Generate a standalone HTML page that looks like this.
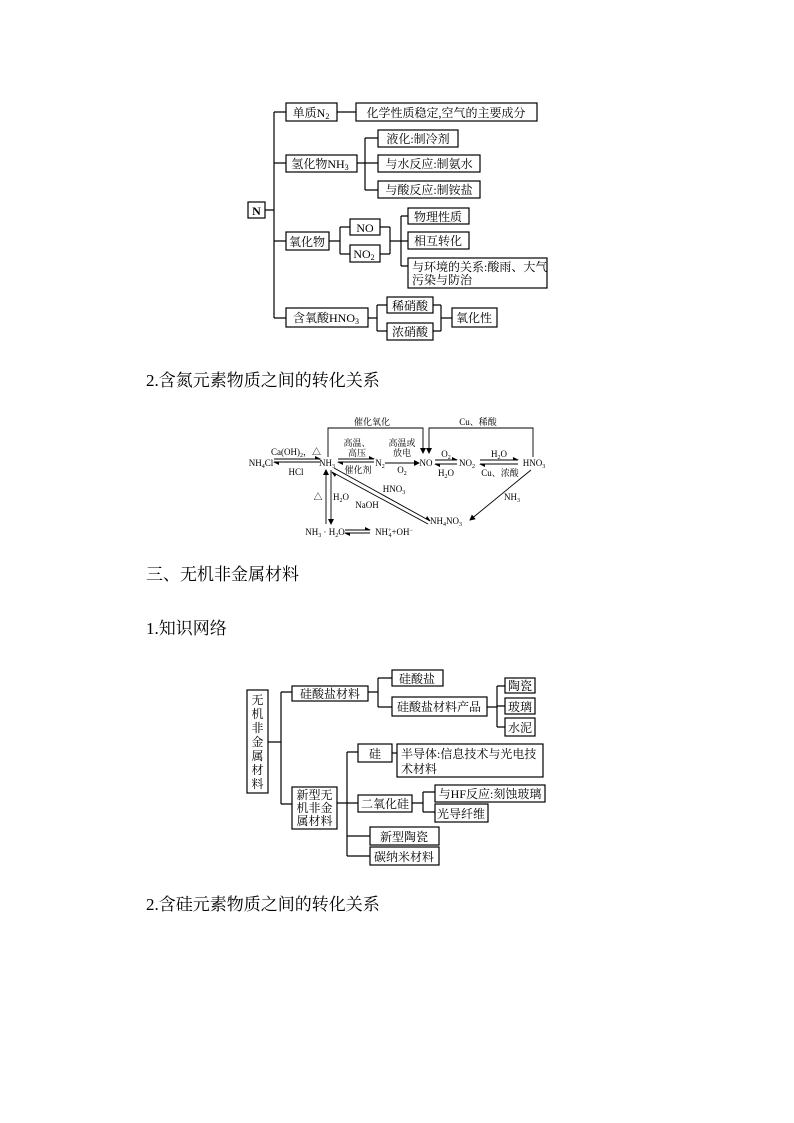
<!DOCTYPE html>
<html><head><meta charset="utf-8"><style>
html,body{margin:0;padding:0;background:#fff;}
body{width:794px;height:1123px;position:relative;overflow:hidden;font-family:"Liberation Serif","Noto Serif CJK SC","Noto Sans CJK SC",serif;}
.h{position:absolute;left:146px;font-size:17px;line-height:20px;color:#000;white-space:nowrap;font-family:"Liberation Serif","Noto Serif CJK SC",serif;}
svg{position:absolute;left:0;top:0;}
svg text{font-family:"Liberation Serif","Noto Serif CJK SC",serif;fill:#000;}
</style></head><body>
<div class="h" style="top:371px">2.含氮元素物质之间的转化关系</div>
<div class="h" style="top:565px">三、无机非金属材料</div>
<div class="h" style="top:619px">1.知识网络</div>
<div class="h" style="top:895px">2.含硅元素物质之间的转化关系</div>

<svg width="794" height="1123" viewBox="0 0 794 1123">
<defs>
<marker id="a" markerWidth="6" markerHeight="6" refX="5" refY="3" orient="auto" markerUnits="userSpaceOnUse"><path d="M0,0 L6,3 L0,6 z" fill="#000"/></marker>
<marker id="h" markerWidth="6" markerHeight="4" refX="5" refY="3" orient="auto" markerUnits="userSpaceOnUse"><path d="M0,0 L6,3 L0,3 z" fill="#000"/></marker>
</defs>
<g fill="none" stroke="#000" stroke-width="1.2">
<rect x="248" y="202" width="17" height="16"/>
<path d="M265 210H274M274 112V318M274 112H286M274 163H286M274 241H286M274 318H286"/>
<rect x="286" y="103" width="51" height="18"/>
<path d="M337 112H356"/>
<rect x="356" y="103" width="181" height="18"/>
<rect x="286" y="155" width="71" height="17"/>
<path d="M357 163H365M365 138V190M365 138H378M365 163H378M365 190H378"/>
<rect x="378" y="130" width="80" height="17"/>
<rect x="378" y="155" width="102" height="17"/>
<rect x="378" y="181" width="102" height="17"/>
<rect x="286" y="232" width="43" height="18"/>
<path d="M329 241H340M340 227V254M340 227H350M340 254H350M380 227H390M380 254H390M390 227V254M390 241H401M401 216V266M401 216H408M401 241H408M401 266H408"/>
<rect x="350" y="219" width="30" height="16"/>
<rect x="350" y="245" width="30" height="17"/>
<rect x="408" y="208" width="61" height="16"/>
<rect x="408" y="232" width="61" height="17"/>
<rect x="408" y="258" width="139" height="30"/>
<rect x="286" y="308" width="82" height="19"/>
<path d="M368 318H377M377 305V331M377 305H387M377 331H387M433 305H441M433 331H441M441 305V331M441 318H452"/>
<rect x="387" y="297" width="46" height="16"/>
<rect x="387" y="323" width="46" height="17"/>
<rect x="452" y="308" width="45" height="19"/>
<rect x="247" y="690" width="21" height="103"/>
<path d="M268 742H281M281 692V804M281 692H292M281 804H292"/>
<rect x="292" y="686" width="76" height="15"/>
<path d="M368 692H378M378 678V707M378 678H392M378 707H392"/>
<rect x="392" y="670" width="51" height="16"/>
<rect x="392" y="697" width="95" height="19"/>
<path d="M487 707H497M497 686V727M497 686H505M497 706H505M497 727H505"/>
<rect x="505" y="678" width="30" height="15"/>
<rect x="505" y="698" width="30" height="16"/>
<rect x="505" y="718" width="30" height="18"/>
<rect x="292" y="787" width="45" height="42"/>
<path d="M337 803H347M347 752V856M347 752H358M347 803H358M347 836H370M347 856H370"/>
<rect x="358" y="744" width="34" height="18"/>
<path d="M392 753H397"/>
<rect x="397" y="744" width="146" height="33"/>
<rect x="358" y="795" width="54" height="17"/>
<path d="M412 803H423M423 792V812M423 792H435M423 812H435"/>
<rect x="435" y="785" width="110" height="17"/>
<rect x="435" y="804" width="53" height="18"/>
<rect x="370" y="827" width="69" height="18"/>
<rect x="370" y="847" width="69" height="18"/>
<g stroke-width="0.9">
<path d="M328 457V428H423V453" marker-end="url(#a)"/>
<path d="M533 457V428H429V453" marker-end="url(#a)"/>
<path d="M274 459H320" marker-end="url(#h)"/>
<path d="M320 462H274" marker-end="url(#h)"/>
<path d="M338 459H374" marker-end="url(#h)"/>
<path d="M374 462H338" marker-end="url(#h)"/>
<path d="M385 463H419" marker-end="url(#a)"/>
<path d="M435 460H457" marker-end="url(#h)"/>
<path d="M457 464H435" marker-end="url(#h)"/>
<path d="M480 460H518" marker-end="url(#h)"/>
<path d="M518 464H480" marker-end="url(#h)"/>
<path d="M326 524V470" marker-end="url(#a)"/>
<path d="M331 470V524" marker-end="url(#a)"/>
<path d="M334 468L430 521" marker-end="url(#h)"/>
<path d="M428 524L332 472" marker-end="url(#h)"/>
<path d="M345 530H370" marker-end="url(#h)"/>
<path d="M370 533H345" marker-end="url(#h)"/>
<path d="M531 470L470 520" marker-end="url(#a)"/>
</g>
</g>
<g font-size="12" text-anchor="middle">
<text x="256.5" y="215" font-weight="bold">N</text>
<text x="311" y="117">单质N<tspan font-size="8" dy="2">2</tspan></text>
<text x="446" y="117">化学性质稳定,空气的主要成分</text>
<text x="320" y="168">氢化物NH<tspan font-size="8" dy="2">3</tspan></text>
<text x="418" y="143">液化:制冷剂</text>
<text x="429" y="168">与水反应:制氨水</text>
<text x="429" y="194">与酸反应:制铵盐</text>
<text x="307" y="246">氧化物</text>
<text x="365" y="232">NO</text>
<text x="364" y="258">NO<tspan font-size="8" dy="2">2</tspan></text>
<text x="438" y="221">物理性质</text>
<text x="438" y="245">相互转化</text>
<text x="412" y="271" text-anchor="start">与环境的关系:酸雨、大气</text>
<text x="412" y="284" text-anchor="start">污染与防治</text>
<text x="326" y="322">含氧酸HNO<tspan font-size="8" dy="2">3</tspan></text>
<text x="410" y="310">稀硝酸</text>
<text x="410" y="336">浓硝酸</text>
<text x="474" y="322">氧化性</text>
</g>
<g font-size="9" text-anchor="middle">
<text x="372" y="425">催化氧化</text>
<text x="478" y="425">Cu、稀酸</text>
<text x="261" y="466">NH<tspan font-size="6" dy="2">4</tspan><tspan dy="-2">Cl</tspan></text>
<text x="296" y="455">Ca(OH)<tspan font-size="6" dy="2">2</tspan><tspan dy="-2">，△</tspan></text>
<text x="296" y="475">HCl</text>
<text x="327" y="466">NH<tspan font-size="6" dy="2">3</tspan></text>
<text x="357" y="446">高温、</text>
<text x="357" y="456">高压</text>
<text x="358" y="473">催化剂</text>
<text x="380" y="466">N<tspan font-size="6" dy="2">2</tspan></text>
<text x="402" y="446">高温或</text>
<text x="402" y="456">放电</text>
<text x="402" y="473">O<tspan font-size="6" dy="2">2</tspan></text>
<text x="426" y="466">NO</text>
<text x="446" y="457">O<tspan font-size="6" dy="2">2</tspan></text>
<text x="446" y="476">H<tspan font-size="6" dy="2">2</tspan><tspan dy="-2">O</tspan></text>
<text x="467" y="466">NO<tspan font-size="6" dy="2">2</tspan></text>
<text x="499" y="457">H<tspan font-size="6" dy="2">2</tspan><tspan dy="-2">O</tspan></text>
<text x="500" y="476">Cu、浓酸</text>
<text x="534" y="466">HNO<tspan font-size="6" dy="2">3</tspan></text>
<text x="318" y="500">△</text>
<text x="341" y="500">H<tspan font-size="6" dy="2">2</tspan><tspan dy="-2">O</tspan></text>
<text x="367" y="508">NaOH</text>
<text x="394" y="492">HNO<tspan font-size="6" dy="2">3</tspan></text>
<text x="512" y="500">NH<tspan font-size="6" dy="2">3</tspan></text>
<text x="446" y="524">NH<tspan font-size="6" dy="2">4</tspan><tspan dy="-2">NO</tspan><tspan font-size="6" dy="2">3</tspan></text>
<text x="325" y="535">NH<tspan font-size="6" dy="2">3</tspan><tspan dy="-2"> · H</tspan><tspan font-size="6" dy="2">2</tspan><tspan dy="-2">O</tspan></text>
<text x="394" y="535">NH<tspan font-size="6" dy="-3">+</tspan><tspan font-size="6" dx="-3" dy="5">4</tspan><tspan dy="-2">+OH</tspan><tspan font-size="6" dy="-3">−</tspan></text>
</g>
<g font-size="12" text-anchor="middle">
<text x="257.5" y="704">无</text><text x="257.5" y="718">机</text><text x="257.5" y="732">非</text><text x="257.5" y="746">金</text><text x="257.5" y="760">属</text><text x="257.5" y="774">材</text><text x="257.5" y="788">料</text>
<text x="330" y="698">硅酸盐材料</text>
<text x="417" y="683">硅酸盐</text>
<text x="439" y="711">硅酸盐材料产品</text>
<text x="520" y="690">陶瓷</text>
<text x="520" y="711">玻璃</text>
<text x="520" y="732">水泥</text>
<text x="314.5" y="799">新型无</text>
<text x="314.5" y="812">机非金</text>
<text x="314.5" y="825">属材料</text>
<text x="375" y="758">硅</text>
<text x="401" y="758" text-anchor="start">半导体:信息技术与光电技</text>
<text x="401" y="773" text-anchor="start">术材料</text>
<text x="385" y="808">二氧化硅</text>
<text x="490" y="798">与HF反应:刻蚀玻璃</text>
<text x="461" y="818">光导纤维</text>
<text x="404" y="841">新型陶瓷</text>
<text x="404" y="861">碳纳米材料</text>
</g>
</svg>
</body></html>
